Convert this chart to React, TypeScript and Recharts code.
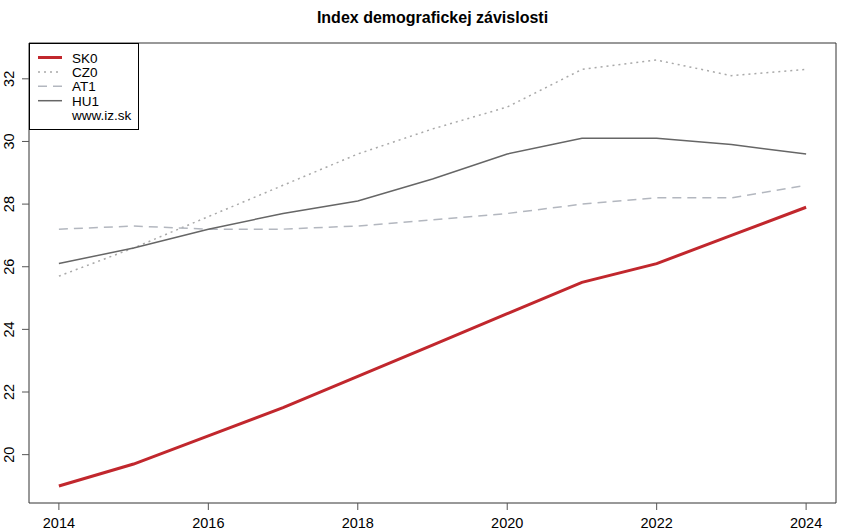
import { LineChart, Line, XAxis, YAxis, ReferenceArea } from 'recharts';

const years = [2014, 2015, 2016, 2017, 2018, 2019, 2020, 2021, 2022, 2023, 2024];
const sk0 = [19.0, 19.7, 20.6, 21.5, 22.5, 23.5, 24.5, 25.5, 26.1, 27.0, 27.9];
const cz0 = [25.7, 26.6, 27.6, 28.6, 29.6, 30.4, 31.1, 32.3, 32.6, 32.1, 32.3];
const at1 = [27.2, 27.3, 27.2, 27.2, 27.3, 27.5, 27.7, 28.0, 28.2, 28.2, 28.6];
const hu1 = [26.1, 26.6, 27.2, 27.7, 28.1, 28.8, 29.6, 30.1, 30.1, 29.9, 29.6];
const xTicks = [2014, 2016, 2018, 2020, 2022, 2024];
const yTicks = [20, 22, 24, 26, 28, 30, 32];

const data = years.map((y, i) => ({
  year: y,
  SK0: sk0[i],
  CZ0: cz0[i],
  AT1: at1[i],
  HU1: hu1[i],
}));

const font = '"Liberation Sans", Arial, sans-serif';

const series = [
  { key: 'SK0', color: '#c1272d', width: 3, dash: undefined },
  { key: 'CZ0', color: '#a9a9a9', width: 1.5, dash: '2 4' },
  { key: 'AT1', color: '#b3b7bf', width: 1.5, dash: '9 6' },
  { key: 'HU1', color: '#666666', width: 1.5, dash: undefined },
];

const XTick = (props: any) => {
  const { x, payload } = props;
  return (
    <text x={x} y={528} textAnchor="middle" fontFamily={font} fontSize={14.5} fill="#000">
      {payload.value}
    </text>
  );
};

const YTick = (props: any) => {
  const { x, y, payload } = props;
  return (
    <text
      x={x - 6}
      y={y}
      transform={`rotate(-90, ${x - 6}, ${y})`}
      textAnchor="middle"
      fontFamily={font}
      fontSize={14.5}
      fill="#000"
    >
      {payload.value}
    </text>
  );
};

const LegendBox = () => (
  <svg width={110} height={87} style={{ display: 'block' }}>
    <rect x={0.5} y={0.5} width={109} height={86} fill="#fff" stroke="#000" />
    {series.map((s, i) => (
      <g key={s.key}>
        <line
          x1={9}
          x2={33}
          y1={14.5 + i * 14.4}
          y2={14.5 + i * 14.4}
          stroke={s.color}
          strokeWidth={s.width}
          strokeDasharray={s.dash}
        />
        <text x={43} y={19.5 + i * 14.4} fontFamily={font} fontSize={13.5} fill="#000">
          {s.key}
        </text>
      </g>
    ))}
    <text x={43} y={19.5 + 4 * 14.4} fontFamily={font} fontSize={13.5} fill="#000">
      www.iz.sk
    </text>
  </svg>
);

export default function App() {
  return (
    <div style={{ position: 'absolute', left: 0, top: 0, width: 850, height: 532, background: '#fff' }}>
      <div
        style={{
          position: 'absolute',
          left: 29,
          width: 807,
          top: 9,
          textAlign: 'center',
          fontFamily: font,
          fontWeight: 'bold',
          fontSize: 16,
        }}
      >
        Index demografickej závislosti
      </div>
      <LineChart
        width={850}
        height={532}
        data={data}
        margin={{ top: 43, right: 14, bottom: 0, left: 0 }}
      >
        <XAxis
          dataKey="year"
          type="number"
          domain={[2013.6, 2024.4]}
          ticks={xTicks}
          axisLine={false}
          tickSize={7}
          tickLine={{ stroke: '#555' }}
          tick={<XTick />}
          height={29}
          allowDataOverflow
        />
        <YAxis
          type="number"
          domain={[18.456, 33.144]}
          ticks={yTicks}
          axisLine={false}
          tickSize={7}
          tickLine={{ stroke: '#555' }}
          tick={<YTick />}
          width={29}
          allowDataOverflow
        />
        <ReferenceArea
          x1={2013.6}
          x2={2024.4}
          y1={18.456}
          y2={33.144}
          fill="none"
          stroke="#333"
          strokeWidth={1}
          ifOverflow="visible"
        />
        {series.map((s) => (
          <Line
            key={s.key}
            type="linear"
            dataKey={s.key}
            stroke={s.color}
            strokeWidth={s.width}
            strokeDasharray={s.dash}
            dot={false}
            activeDot={false}
            isAnimationActive={false}
          />
        ))}
      </LineChart>
      <div style={{ position: 'absolute', left: 29, top: 43 }}>
        <LegendBox />
      </div>
    </div>
  );
}
